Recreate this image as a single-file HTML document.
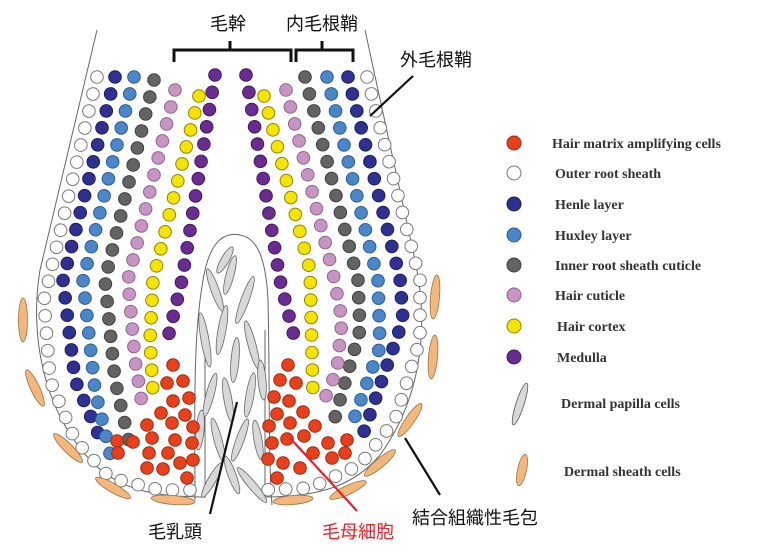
<!DOCTYPE html>
<html><head><meta charset="utf-8"><style>
html,body{margin:0;padding:0;background:#fff;width:763px;height:552px;overflow:hidden}
svg{display:block}
.jp{font-family:"Liberation Sans","Noto Sans CJK JP",sans-serif;font-size:18px;fill:#111}
.lg{font-family:"Liberation Serif",serif;font-size:14px;font-weight:bold;fill:#333}
</style></head><body>
<svg id="s" width="763" height="552" viewBox="0 0 763 552" xmlns="http://www.w3.org/2000/svg">
<g fill="none" stroke="#666" stroke-width="1">
<path d="M97,30 L40,270 C30,330 40,410 95,465 C120,488 150,497 205,497 L205,330"/>
<path d="M365,30 L415,260 C430,330 420,400 380,455 C355,485 320,497 265,497 L265,330"/>
<path d="M195,500 C195,420 192,330 205,270 C212,240 225,232 240,235 C258,238 266,260 268,300 C270,380 268,450 272,505"/>
</g>
<g id="pap"></g>
<g id="dots"></g>
<g id="sheath"></g>
<g stroke="#111" stroke-width="3" fill="none">
<path d="M174,62 V50 H291 V62 M230,50 V41"/>
<path d="M296,62 V50 H353 V62 M322,50 V41"/>
</g>
<g stroke="#111" stroke-width="2.2">
<line x1="413" y1="76" x2="370" y2="116"/>
<line x1="237" y1="402" x2="210" y2="514"/>
<line x1="405" y1="438" x2="440" y2="495"/>
</g>
<line x1="290" y1="438" x2="357" y2="511" stroke="#e8202a" stroke-width="2.2"/>
<text class="jp" x="228" y="30" text-anchor="middle">毛幹</text>
<text class="jp" x="322" y="30" text-anchor="middle">内毛根鞘</text>
<text class="jp" x="400" y="66">外毛根鞘</text>
<text class="jp" x="175" y="538" text-anchor="middle">毛乳頭</text>
<text class="jp" x="358" y="538" text-anchor="middle" style="fill:#e8202a">毛母細胞</text>
<text class="jp" x="412" y="524">結合組織性毛包</text>
<g id="legend"></g>
<text class="lg" x="552" y="148">Hair matrix amplifying cells</text>
<text class="lg" x="555" y="178">Outer root sheath</text>
<text class="lg" x="555" y="209">Henle layer</text>
<text class="lg" x="555" y="240">Huxley layer</text>
<text class="lg" x="555" y="270">Inner root sheath cuticle</text>
<text class="lg" x="555" y="300">Hair cuticle</text>
<text class="lg" x="557" y="331">Hair cortex</text>
<text class="lg" x="557" y="362">Medulla</text>
<text class="lg" x="561" y="408">Dermal papilla cells</text>
<text class="lg" x="564" y="476">Dermal sheath cells</text>
</svg>
<script>
var NS="http://www.w3.org/2000/svg";
function el(p,t,a){var e=document.createElementNS(NS,t);for(var k in a)e.setAttribute(k,a[k]);p.appendChild(e);return e;}
var C={r:["#e8401c","#a02a10"],w:["#fff","#777"],n:["#2e3192","#1c1f60"],b:["#4a86c8","#2d5d94"],g:["#636363","#404040"],p:["#c894c4","#8e668b"],y:["#f5e400","#8f8500"],m:["#6a2c91","#44195f"]};
var D=document.getElementById("dots");
function dot(x,y,c,r){el(D,"circle",{cx:x,cy:y,r:r||6.3,fill:C[c][0],stroke:C[c][1],"stroke-width":1});}
function col(pts,c,sp){sp=sp||17.5;var acc=0;dot(pts[0][0],pts[0][1],c);
for(var i=1;i<pts.length;i++){var x0=pts[i-1][0],y0=pts[i-1][1],dx=pts[i][0]-x0,dy=pts[i][1]-y0,L=Math.hypot(dx,dy);var t=sp-acc;while(t<=L){dot(x0+dx*t/L,y0+dy*t/L,c);t+=sp;}acc=L-(t-sp);}}
col([[97,77],[44,300],[50,380],[75,440],[110,478],[160,490],[200,490]],"w");
col([[115,77],[63,280],[75,380],[103,445]],"n");
col([[134,77],[83,280],[95,390],[112,462]],"b");
col([[154,80],[105,280],[115,380],[132,455]],"g");
col([[175,90],[128,280],[135,360],[143,410]],"p");
col([[199,96],[153,280],[150,340],[153,393]],"y");
col([[215,75],[182,280],[165,350]],"m");
col([[367,77],[420,280],[420,340],[395,420],[360,465],[310,488],[262,490]],"w");
col([[348,77],[400,278],[403,320],[360,443]],"n");
col([[327,77],[378,280],[380,347],[350,430]],"b");
col([[305,77],[358,280],[360,330],[332,428]],"g");
col([[286,90],[333,273],[342,320],[337,370],[320,410]],"p");
col([[264,96],[310,270],[313,395]],"y");
col([[246,75],[280,280],[297,348]],"m");
[[173,365],[167,383],[183,381],[173,401],[189,398],[161,413],[185,415],[147,425],[172,423],[193,427],[117,441],[133,442],[152,438],[175,440],[192,443],[118,453],[149,453],[168,453],[193,460],[147,468],[163,469],[180,463],[187,478],
[288,365],[280,380],[296,383],[274,397],[289,401],[277,414],[303,412],[269,426],[290,423],[315,426],[272,443],[287,439],[304,436],[328,443],[347,440],[268,459],[283,463],[300,468],[313,453],[332,458],[345,453],[277,478]].forEach(function(p){dot(p[0],p[1],"r");});
var P=document.getElementById("pap");
[[215,290,-20,45],[230,275,15,40],[245,300,20,50],[205,340,-10,55],[222,330,10,50],[252,345,-15,50],[235,360,5,45],[210,395,15,45],[228,400,-10,45],[250,395,10,45],[218,440,-15,45],[240,440,20,45],[258,440,-10,40],[212,480,30,40],[232,475,-20,40],[252,485,-40,45],[225,260,30,30],[200,430,5,40],[262,380,-5,40]].forEach(function(a){
el(P,"ellipse",{cx:a[0],cy:a[1],rx:4,ry:a[3]/2,fill:"#d8d8d8",stroke:"#666","stroke-width":0.8,transform:"rotate("+a[2]+" "+a[0]+" "+a[1]+")"});});
var S=document.getElementById("sheath");
[[23,320,0,22],[35,388,-25,20],[68,448,-45,20],[113,488,-60,20],[173,500,-85,22],[435,297,5,22],[433,357,5,22],[410,420,35,20],[380,463,50,20],[348,490,65,20],[293,500,85,20]].forEach(function(a){
el(S,"ellipse",{cx:a[0],cy:a[1],rx:4.5,ry:a[3],fill:"#f2b77e",stroke:"#a07040","stroke-width":0.8,transform:"rotate("+a[2]+" "+a[0]+" "+a[1]+")"});});
var G=document.getElementById("legend");
["r","w","n","b","g","p","y","m"].forEach(function(c,i){var y=[143,173,204,235,265,295,326,357][i];el(G,"circle",{cx:514,cy:y,r:7,fill:C[c][0],stroke:C[c][1],"stroke-width":1});});
el(G,"ellipse",{cx:520,cy:404,rx:4,ry:22,fill:"#d8d8d8",stroke:"#555","stroke-width":0.8,transform:"rotate(18 520 404)"});
el(G,"ellipse",{cx:522,cy:470,rx:4.5,ry:16,fill:"#f2b77e",stroke:"#a07040","stroke-width":0.8,transform:"rotate(12 522 470)"});
</script>
</body></html>
